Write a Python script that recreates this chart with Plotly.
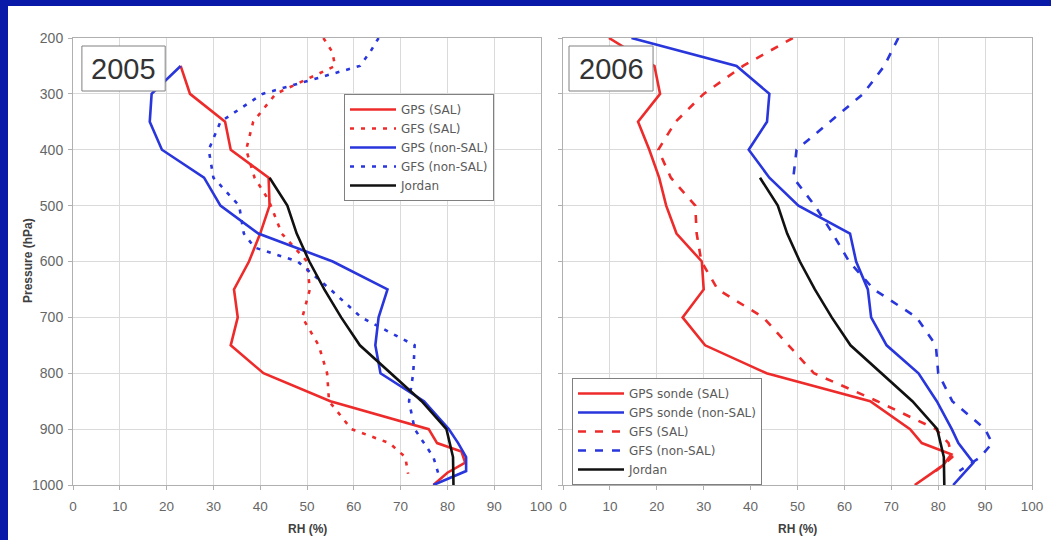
import plotly.graph_objects as go

# ---------------- 2005 panel ----------------
p05_gps_sal = [250, 300, 350, 400, 450, 500, 550, 600, 650, 700, 750, 800, 850, 900, 925, 940, 960, 978, 1000]
rh05_gps_sal = [23, 25, 32.5, 33.7, 41.8, 42, 40, 37.6, 34.4, 35.2, 33.7, 40.7, 55, 76, 77.8, 83, 83.8, 80, 77]

p05_gfs_sal = [200, 225, 250, 300, 350, 400, 450, 490, 520, 550, 585, 600, 650, 700, 750, 800, 850, 900, 925, 950, 980]
rh05_gfs_sal = [53.5, 55.4, 56, 43.3, 38.5, 37, 38.8, 41.8, 43.2, 44.6, 48.4, 50, 50.6, 49, 52.5, 54.3, 54.7, 59.5, 67.6, 71, 71.6]

p05_gps_non = [250, 300, 350, 400, 450, 500, 550, 600, 650, 700, 750, 800, 850, 900, 925, 950, 975, 1000]
rh05_gps_non = [23, 16.8, 16.4, 19, 28, 31.5, 39.6, 55.5, 67.2, 65.3, 64.6, 65.7, 75, 80.3, 82.3, 84, 84, 77]

p05_gfs_non = [200, 225, 250, 300, 350, 400, 450, 500, 550, 575, 600, 650, 700, 750, 800, 850, 900, 950, 978]
rh05_gfs_non = [65.3, 63.5, 61.3, 40.5, 31.5, 29, 30, 35.5, 36.5, 38.8, 48, 55, 61.6, 73, 72.7, 71.8, 73, 77, 78]

# ---------------- 2006 panel ----------------
p06_gps_sal = [200, 250, 300, 350, 400, 450, 500, 550, 600, 650, 700, 750, 800, 850, 900, 925, 945, 965, 1000]
rh06_gps_sal = [9.8, 19.5, 20.7, 16, 18.4, 20.5, 22, 24.2, 29.6, 30, 25.5, 30.3, 43.4, 65.5, 74, 76.5, 82.8, 81, 75]

p06_gps_non = [200, 250, 300, 350, 400, 450, 500, 550, 600, 650, 700, 750, 800, 850, 900, 925, 960, 1000]
rh06_gps_non = [14.6, 37, 44, 43.5, 39.6, 44, 50.2, 61.2, 62.5, 65, 65.7, 69, 75.8, 79.7, 82.9, 84.3, 87.5, 83.2]

p06_gfs_sal = [200, 250, 300, 350, 400, 450, 500, 550, 600, 650, 700, 750, 800, 850, 900, 925, 950, 975]
rh06_gfs_sal = [49, 38.4, 30, 24, 20.3, 23, 28.2, 28.5, 29.5, 33, 42.7, 48, 53.5, 67, 79.5, 82.2, 83, 79.5]

p06_gfs_non = [200, 250, 300, 350, 400, 450, 500, 550, 600, 650, 700, 750, 800, 850, 900, 925, 950, 975]
rh06_gfs_non = [71.5, 68.5, 64, 57, 49.8, 49.1, 53.7, 57.5, 61, 66.3, 75.4, 79.5, 80, 83, 90, 91.5, 89, 84.5]

# Jordan mean tropical sounding (same climatology in both panels)
p_jordan = [450, 500, 550, 600, 650, 700, 750, 800, 850, 900, 950, 1000]
rh_jordan = [42, 45.8, 47.8, 50.5, 53.7, 57.3, 61.3, 68, 74.5, 79.8, 81.2, 81.3]

x_ticks = list(range(0, 101, 10))
p_ticks = list(range(200, 1001, 100))

RED = "#ee2b2b"
BLUE = "#2936dc"
BLACK = "#111111"
FONT = "Liberation Sans, Arial, sans-serif"
LEG_FONT = "DejaVu Sans, Liberation Sans, sans-serif"

W, H = 1051, 540
PLOT_TOP, PLOT_BOTTOM = 38, 485
PH = PLOT_BOTTOM - PLOT_TOP

fig = go.Figure()


def add(x, y, name, color, dash, xa, ya, legend):
    fig.add_trace(go.Scatter(
        x=x, y=y, name=name, mode="lines",
        line=dict(color=color, width=2.6, dash=dash),
        xaxis=xa, yaxis=ya, legend=legend,
    ))


dot05 = "4px,7px"
dash06 = "8px,9px"

add(rh05_gps_sal, p05_gps_sal, "GPS (SAL)", RED, "solid", "x", "y", "legend")
add(rh05_gfs_sal, p05_gfs_sal, "GFS (SAL)", RED, dot05, "x", "y", "legend")
add(rh05_gps_non, p05_gps_non, "GPS (non-SAL)", BLUE, "solid", "x", "y", "legend")
add(rh05_gfs_non, p05_gfs_non, "GFS (non-SAL)", BLUE, dot05, "x", "y", "legend")
add(rh_jordan, p_jordan, "Jordan", BLACK, "solid", "x", "y", "legend")

add(rh06_gps_sal, p06_gps_sal, "GPS sonde (SAL)", RED, "solid", "x2", "y2", "legend2")
add(rh06_gps_non, p06_gps_non, "GPS sonde (non-SAL)", BLUE, "solid", "x2", "y2", "legend2")
add(rh06_gfs_sal, p06_gfs_sal, "GFS (SAL)", RED, dash06, "x2", "y2", "legend2")
add(rh06_gfs_non, p06_gfs_non, "GFS (non-SAL)", BLUE, dash06, "x2", "y2", "legend2")
add(rh_jordan, p_jordan, "Jordan", BLACK, "solid", "x2", "y2", "legend2")

common_x = dict(
    range=[0, 100], tickvals=x_ticks, showgrid=True, gridcolor="#dadada", gridwidth=1,
    showline=True, mirror=True, linecolor="#b0b0b0", linewidth=1,
    ticks="outside", ticklen=4, tickcolor="#b0b0b0", zeroline=False,
    tickfont=dict(size=13.5, color="#666666", family=FONT), ticklabelstandoff=5,
    automargin=False, fixedrange=True,
)
common_y = dict(
    range=[1000, 200], tickvals=p_ticks, showgrid=True, gridcolor="#dadada", gridwidth=1,
    showline=True, mirror=True, linecolor="#b0b0b0", linewidth=1,
    ticks="outside", ticklen=4, tickcolor="#b0b0b0", zeroline=False,
    tickfont=dict(size=14, color="#666666", family=FONT), ticklabelstandoff=2,
    automargin=False, fixedrange=True, domain=[0, 1],
)

legend_style = dict(
    bgcolor="white", bordercolor="#808080", borderwidth=1,
    font=dict(size=12, color="#5a5a5a", family=LEG_FONT),
    itemwidth=46, xanchor="left", yanchor="top", tracegroupgap=0,
)


def py(px):
    """Pixel row -> paper y (paper spans the plotting rows)."""
    return (PLOT_BOTTOM - px) / PH


def dy(px):
    """Pixel row -> y-domain fraction."""
    return 1 - (px - PLOT_TOP) / PH


fig.update_layout(
    width=W, height=H,
    margin=dict(l=0, r=0, t=PLOT_TOP, b=H - PLOT_BOTTOM),
    paper_bgcolor="white", plot_bgcolor="white",
    font=dict(family=FONT),
    xaxis=dict(common_x, domain=[73 / W, 541 / W], anchor="y"),
    yaxis=dict(common_y, anchor="x"),
    xaxis2=dict(common_x, domain=[563 / W, 1032 / W], anchor="y2"),
    yaxis2=dict(common_y, anchor="x2", showticklabels=False),
    legend=dict(legend_style, x=344 / W, y=py(94)),
    legend2=dict(legend_style, x=572 / W, y=py(378)),
    showlegend=True,
)

# Axis titles
title_font = dict(size=12, color="#404040", family=FONT)
for cx in [(73 + 541) / 2, (563 + 1032) / 2]:
    fig.add_annotation(xref="paper", yref="paper", x=cx / W, y=py(529),
                       text="<b>RH (%)</b>", showarrow=False, font=title_font,
                       xanchor="center", yanchor="middle")
fig.add_annotation(xref="paper", yref="paper", x=28 / W, y=py(261),
                   text="<b>Pressure (hPa)</b>", showarrow=False, font=title_font,
                   textangle=-90, xanchor="center", yanchor="middle")

# Year labels in framed boxes, drawn over the curves
for xa, ya, text, x0, x1 in [
    ("x", "y", "2005", 0.019, 0.197),
    ("x2", "y2", "2006", 0.0128, 0.192),
]:
    fig.add_shape(type="rect", xref=f"{xa} domain", yref=f"{ya} domain",
                  x0=x0, x1=x1, y0=dy(91), y1=dy(46),
                  fillcolor="white", line=dict(color="#808080", width=1), layer="above")
    fig.add_annotation(xref=f"{xa} domain", yref=f"{ya} domain", x=(x0 + x1) / 2,
                       y=dy(68.5), text=text, showarrow=False,
                       xanchor="center", yanchor="middle",
                       font=dict(size=29, color="#333333", family=FONT))

# Slide frame: dark blue strips along the top and left edges
fig.add_shape(type="rect", xref="paper", yref="paper", x0=-0.01, x1=1.01,
              y0=py(6), y1=py(-5), fillcolor="#0a1aa8", line_width=0, layer="below")
fig.add_shape(type="rect", xref="paper", yref="paper", x0=-0.01, x1=8 / W,
              y0=py(545), y1=py(-5), fillcolor="#0a1aa8", line_width=0, layer="below")

fig.write_html("out.html")
